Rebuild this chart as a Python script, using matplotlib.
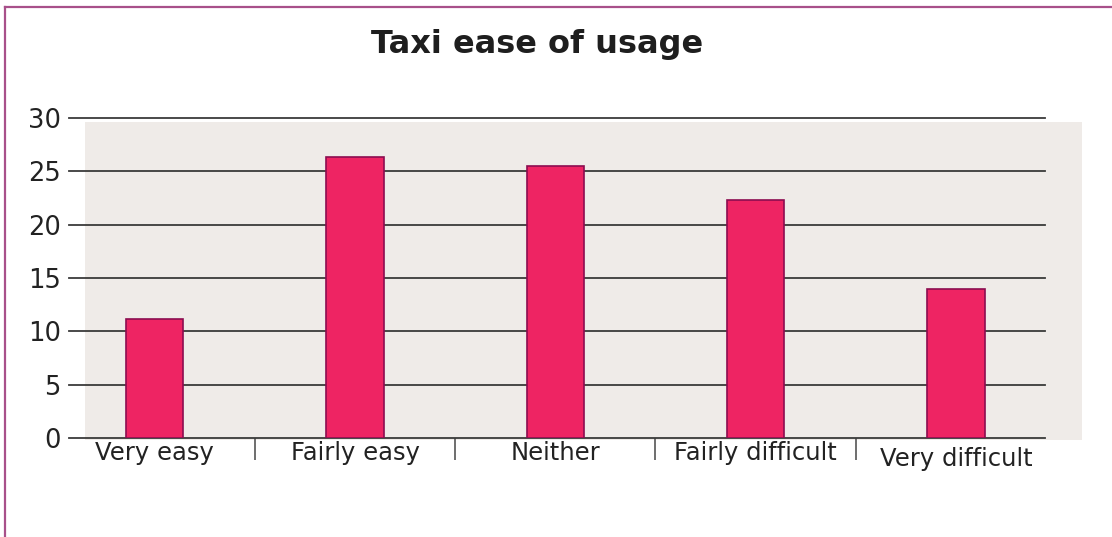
import matplotlib
matplotlib.use("Agg")
import matplotlib.pyplot as plt
from matplotlib.patches import Rectangle
from matplotlib.lines import Line2D

# survey answers and share of respondents
categories = ["Very easy", "Fairly easy", "Neither", "Fairly difficult", "Very difficult"]
values = [11.2, 26.3, 25.5, 22.3, 14.0]
yticks = [0, 5, 10, 15, 20, 25, 30]

W, H = 1112, 537
fig = plt.figure(figsize=(W / 100, H / 100), dpi=100)

# axes box in pixels: left 69, right 1045, y=0 at 438, y=30 at 118
ax = fig.add_axes([69 / W, 1 - 438 / H, 976 / W, 320 / H])
ax.set_facecolor("none")

# beige panel behind the plot, a bit wider than the gridlines
ax.add_patch(Rectangle((0.0164, -0.006), 1.022, 0.9935, transform=ax.transAxes,
                       facecolor="#efebe8", edgecolor="none", zorder=0, clip_on=False))

x = list(range(len(categories)))
ax.bar(x, values, width=0.287, color="#ee2463", edgecolor="#8c0c50",
       linewidth=1.2, zorder=3)

ax.set_ylim(0, 30)
ax.set_xlim(-0.428, 4.445)
ax.set_yticks(yticks)
ax.set_yticklabels([str(t) for t in yticks])
for t in yticks:
    ax.axhline(t, color="#3a3a3a", linewidth=1.3, zorder=2, clip_on=False)

for s in ax.spines.values():
    s.set_visible(False)

ax.tick_params(axis="y", length=0, pad=6, labelsize=18.5, labelcolor="#222222")
ax.set_xticks(x)
ax.set_xticklabels(categories)
ax.tick_params(axis="x", which="major", length=0, pad=2, labelsize=17.5, labelcolor="#222222")
# separators between the categories
ax.set_xticks([i + 0.5 for i in x[:-1]], minor=True)
ax.tick_params(axis="x", which="minor", length=16, width=1.2, color="#555555", direction="out")
ax.get_xticklabels()[-1].set_y(-0.02)

fig.text(537 / W, 1 - 44 / H, "Taxi ease of usage", ha="center", va="center",
         fontsize=23, fontweight="heavy", color="#1e1e1e")

# frame on the top and left edge
fig.add_artist(Line2D([5 / W, 1], [1 - 6.5 / H, 1 - 6.5 / H], color="#a8508a", linewidth=1.6))
fig.add_artist(Line2D([5 / W, 5 / W], [0, 1 - 6.5 / H], color="#a8508a", linewidth=1.6))

fig.savefig("out.png", dpi=100)
